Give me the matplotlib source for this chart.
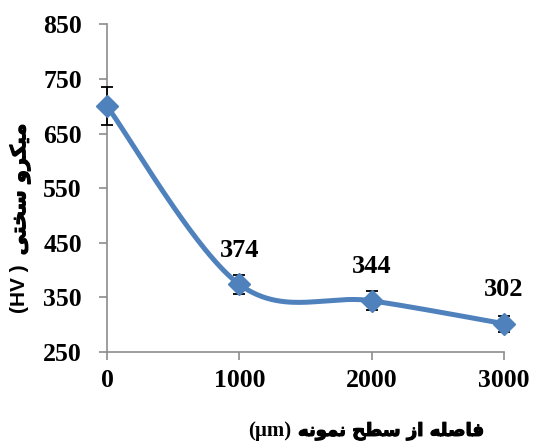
import numpy as np
import matplotlib
matplotlib.use("Agg")
import matplotlib.pyplot as plt
import matplotlib.patheffects as pe

# depth from the surface (um) and microhardness (HV)
distance = [0, 1000, 2000, 3000]
hardness = [700, 374, 344, 302]
hardness_err = [35, 18, 17, 15]
labelled = [1, 2, 3]

x_ticks = [0, 1000, 2000, 3000]
y_ticks = [250, 350, 450, 550, 650, 750, 850]

# Persian labels in presentation forms, written in visual (left-to-right) order
y_label_unit = "(HV ) "
y_label_fa = "\ufbfd\ufe98\ufea8\ufeb3 \ufeed\ufeae\ufb91\ufbff\ufee3"
x_label_fa = "\ufeea\ufee7\ufeee\ufee4\ufee7 \ufea2\ufec4\ufeb3 \ufeaf\ufe8d \ufeea\ufee0\ufebb\ufe8e\ufed3"
x_label_unit = "(\u00b5m)"

BLUE = "#4F81BD"
AXIS_GREY = "#8C8C8C"
# the Arabic glyphs only come in one weight, so thicken them with a stroke
HEAVY = [pe.withStroke(linewidth=0.8, foreground="black")]


def smooth_curve(xs, ys, steps=60):
    """Catmull-Rom style Bezier smoothing, like a spreadsheet's smoothed line."""
    pts = np.column_stack([xs, ys]).astype(float)
    n = len(pts)
    out = []
    for i in range(n - 1):
        p0 = pts[max(i - 1, 0)]
        p1 = pts[i]
        p2 = pts[i + 1]
        p3 = pts[min(i + 2, n - 1)]
        c1 = p1 + (p2 - p0) / 6.0
        c2 = p2 - (p3 - p1) / 6.0
        t = np.linspace(0, 1, steps)[:, None]
        seg = ((1 - t) ** 3) * p1 + 3 * ((1 - t) ** 2) * t * c1 \
            + 3 * (1 - t) * t ** 2 * c2 + t ** 3 * p2
        out.append(seg if i == 0 else seg[1:])
    curve = np.vstack(out)
    return curve[:, 0], curve[:, 1]


fig = plt.figure(figsize=(5.35, 4.48), dpi=100)
ax = fig.add_axes([0.2, 0.214, 0.742, 0.732])

cx, cy = smooth_curve(distance, hardness)
ax.plot(cx, cy, color=BLUE, linewidth=3.6, solid_capstyle="round", zorder=2)
eb = ax.errorbar(distance, hardness, yerr=hardness_err, fmt="none",
                 ecolor="black", elinewidth=1.3, capsize=4.5, capthick=1.3,
                 zorder=3)
for artist in eb.get_children():
    artist.set_clip_on(False)
ax.plot(distance, hardness, linestyle="none", marker="D", markersize=11,
        color=BLUE, zorder=4, clip_on=False)

for i in labelled:
    ax.annotate(str(hardness[i]), (distance[i], hardness[i]),
                xytext=(0, 24.5), textcoords="offset points", ha="center",
                va="center", fontsize=19, fontweight="bold",
                family="Liberation Serif")

ax.set_xlim(0, 3000)
ax.set_ylim(250, 850)
ax.set_xticks(x_ticks)
ax.set_yticks(y_ticks)
ax.tick_params(axis="both", direction="out", length=5.5, width=1.2,
               color=AXIS_GREY, labelsize=18.5)
ax.tick_params(axis="x", pad=6.5)
ax.tick_params(axis="y", pad=12.5)
for lab in ax.get_xticklabels() + ax.get_yticklabels():
    lab.set_fontfamily("Liberation Serif")
    lab.set_fontweight("bold")

for side in ("top", "right"):
    ax.spines[side].set_visible(False)
for side in ("left", "bottom"):
    ax.spines[side].set_color(AXIS_GREY)
    ax.spines[side].set_linewidth(1.2)

# y label: unit at the bottom, Persian words above it
fig.text(0.037, 0.302, y_label_unit, rotation=90, ha="center", va="bottom",
         fontsize=15, fontweight="bold", family=["Liberation Sans"])
fig.text(0.037, 0.43, y_label_fa, rotation=90, ha="center", va="bottom",
         fontsize=15, fontweight="bold", family=["DejaVu Sans"],
         path_effects=HEAVY)

# x label: unit sits to the left of the Persian words on one line
fig.text(0.557, 0.027, x_label_fa, ha="left", va="baseline",
         fontsize=13, fontweight="bold", family=["DejaVu Sans"],
         path_effects=HEAVY)
fig.text(0.544, 0.027, x_label_unit, ha="right", va="baseline",
         fontsize=15, fontweight="bold", family=["Liberation Serif"])

fig.savefig("out.png", dpi=100)
